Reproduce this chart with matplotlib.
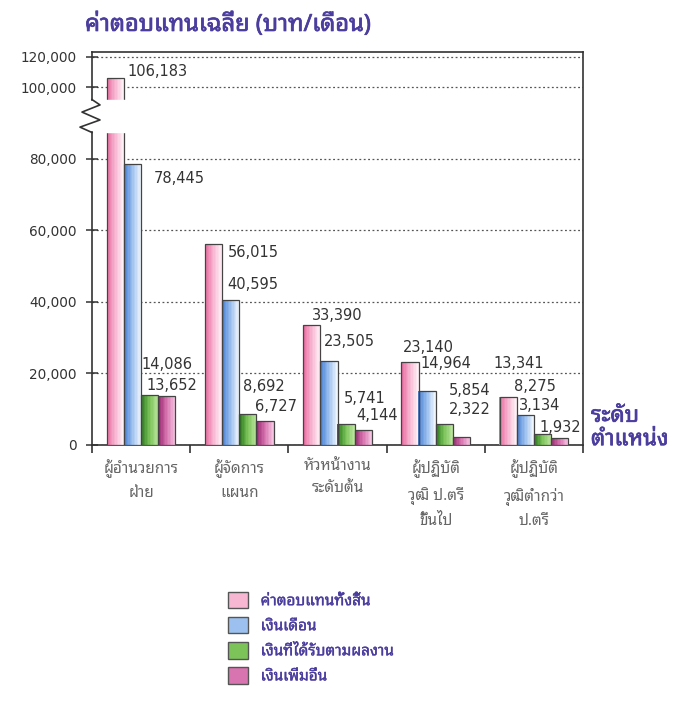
import numpy as np
import matplotlib.pyplot as plt
import matplotlib.patheffects as pe
from matplotlib.patches import Patch
from matplotlib.colors import LinearSegmentedColormap

# digits from DejaVu, Thai glyphs fall back to the looped Noto face
plt.rcParams['font.family'] = ['DejaVu Sans', 'Noto Sans Thai Looped']
thai = ['Noto Sans Thai Looped', 'DejaVu Sans']

categories = ['ผู้อำนวยการ\nฝ่าย', 'ผู้จัดการ\nแผนก', 'หัวหน้างาน\nระดับต้น',
              'ผู้ปฏิบัติ\nวุฒิ ป.ตรี\nขึ้นไป', 'ผู้ปฏิบัติ\nวุฒิต่ำกว่า\nป.ตรี']
series_names = ['ค่าตอบแทนทั้งสิ้น', 'เงินเดือน', 'เงินที่ได้รับตามผลงาน', 'เงินเพิ่มอื่น']
total = [106183, 56015, 33390, 23140, 13341]
salary = [78445, 40595, 23505, 14964, 8275]
performance = [14086, 8692, 5741, 5854, 3134]
other = [13652, 6727, 4144, 2322, 1932]
yticks = [0, 20000, 40000, 60000, 80000, 100000, 120000]

series = [total, salary, performance, other]
shades = [['#ea6fa3', '#f7b6d2', '#fff0f6'],
          ['#4f86d6', '#9cc0ef', '#eef5fd'],
          ['#2f7d22', '#7cc45a', '#b9e39c'],
          ['#9c2f74', '#d874b0', '#f4c3df']]
# label offsets from each bar's top-right corner, in pixels (right, down)
label_off = [[(4, -6), (6, 8), (-8, -10), (-16, -15), (-23, -34)],
             [(13, 14), (-12, -15), (-14, -19), (-15, -28), (-20, -29)],
             [(-17, -30), (-13, -27), (-11, -26), (-4, -34), (-32, -28)],
             [(-29, -11), (-19, -14), (-16, -15), (-21, -27), (-29, -11)]]

BREAK = 100000
K = 0.42
def fwd(y):
    y = np.asarray(y, float)
    return np.where(y <= BREAK, y, BREAK + (y - BREAK) * K)
def inv(y):
    y = np.asarray(y, float)
    return np.where(y <= BREAK, y, BREAK + (y - BREAK) / K)

fig = plt.figure(figsize=(6.84, 7.11), dpi=100)
ax = fig.add_axes([92/684, 1 - 445/711, 491/684, 393/711])
ax.set_yscale('function', functions=(fwd, inv))
ax.set_ylim(0, 123300)
ax.set_xlim(-0.5, 4.5)

x = np.arange(len(categories))
w = 0.175
nslice = 12
for j, vals in enumerate(series):
    cmap = LinearSegmentedColormap.from_list('s%d' % j, shades[j])
    xc = x + (j - 1.5) * w
    for s in range(nslice):
        ax.bar(xc - w/2 + (s + 0.5) * w / nslice, vals, width=w / nslice * 1.05,
               color=cmap(s / (nslice - 1)), linewidth=0, zorder=3)
    ax.bar(xc, vals, width=w, facecolor='none', edgecolor='#444444', linewidth=0.9, zorder=3.5)
    for i, v in enumerate(vals):
        dx, dy = label_off[j][i]
        ax.annotate(f'{v:,}', xy=(xc[i] + w/2, v), xytext=(dx*0.72, -dy*0.72),
                    textcoords='offset points', ha='left', va='center',
                    fontsize=10.5, color='#333333', zorder=6)

# axis break through the first bar
ax.axhspan(87300, 96500, xmin=0, xmax=0.15, color='white', zorder=4)
ax.spines['left'].set_visible(False)
yt = ax.get_yaxis_transform()
ax.plot([0, 0], [0, 87300], transform=yt, color='#333333', lw=1.2, clip_on=False, zorder=5)
ax.plot([0, 0], [96500, 123300], transform=yt, color='#333333', lw=1.2, clip_on=False, zorder=5)
zx = np.array([0, 8, -10, 8, -12, 0]) / 491
zy = [96500, 95000, 93000, 90800, 88800, 87300]
ax.plot(zx, zy, transform=yt, color='#333333', lw=1.2, clip_on=False, zorder=5)

for sp in ['top', 'right', 'bottom']:
    ax.spines[sp].set_color('#333333')
    ax.spines[sp].set_linewidth(1.2)

ax.set_yticks(yticks)
ax.set_yticklabels([f'{t:,}' for t in yticks])
ax.tick_params(axis='y', direction='inout', length=8, width=1.1, pad=7,
               labelsize=9.8, labelcolor='#333333', color='#333333')
ax.yaxis.grid(True, linestyle=(0, (1.5, 2)), color='#555555', linewidth=0.9)
ax.set_axisbelow(True)

ax.set_xticks(np.arange(-0.5, 5, 1))
ax.set_xticklabels([])
ax.set_xticks(x, minor=True)
ax.set_xticklabels(categories, minor=True, fontsize=11, color='#666666',
                   linespacing=1.75, family=thai)
ax.tick_params(axis='x', which='major', direction='out', length=6, width=1.2, color='#333333')
ax.tick_params(axis='x', which='minor', length=0, pad=10)

purple = '#4b3d9e'
heavy = [pe.withStroke(linewidth=0.5, foreground=purple)]
fig.text(85/684, 1 - 25/711, 'ค่าตอบแทนเฉลี่ย (บาท/เดือน)', ha='left', va='center',
         fontsize=17, color=purple, family=thai, path_effects=heavy)
fig.text(591/684, 1 - 428/711, 'ระดับ\nตำแหน่ง', ha='left', va='center',
         fontsize=16, color=purple, linespacing=1.15, family=thai, path_effects=heavy)

handles = [Patch(facecolor=shades[j][1], edgecolor='#555555') for j in range(4)]
leg = fig.legend(handles, series_names, loc='upper left', bbox_to_anchor=(214/684, 1 - 578/711),
                 frameon=False, prop={'family': thai, 'size': 11},
                 labelcolor=purple, handlelength=1.3, handleheight=1.3,
                 labelspacing=0.5, handletextpad=0.85)
for t in leg.get_texts():
    t.set_path_effects([pe.withStroke(linewidth=0.25, foreground=purple)])

fig.savefig('out.png', dpi=100)
